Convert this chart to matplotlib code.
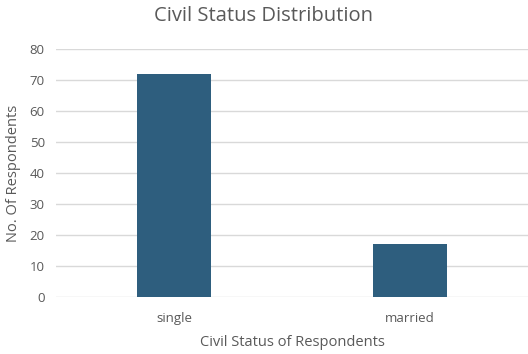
import matplotlib.pyplot as plt
import numpy as np

# Civil status counts
categories = ['single', 'married']
counts = [72, 17]
y_ticks = [0, 10, 20, 30, 40, 50, 60, 70, 80]

plt.rcParams['font.family'] = ['Open Sans', 'DejaVu Sans']
text_color = '#595959'

fig = plt.figure(figsize=(5.28, 3.54), dpi=100)
ax = fig.add_axes([0.106, 0.162, 0.894, 0.699])

x = np.arange(len(categories))
ax.bar(x, counts, width=0.31, color='#2E5E7E', zorder=3)

ax.set_xlim(-0.5, len(categories) - 0.5)
ax.set_ylim(0, 80)
ax.set_yticks(y_ticks)
ax.set_xticks(x)
ax.set_xticklabels(categories)
ax.grid(axis='y', color='#D9D9D9', linewidth=1, zorder=0)
ax.tick_params(axis='both', length=0, colors=text_color, labelsize=9.5, pad=8)
ax.tick_params(axis='x', pad=11)
for side in ['top', 'right', 'left', 'bottom']:
    ax.spines[side].set_visible(False)

ax.set_xlabel('Civil Status of Respondents', color=text_color, fontsize=10.5, labelpad=7.5)
ax.set_ylabel('No. Of Respondents', color=text_color, fontsize=10.5, labelpad=6)
fig.text(0.5, 0.955, 'Civil Status Distribution', ha='center', va='center',
         color=text_color, fontsize=14.5)

plt.savefig('out.png', dpi=100)
plt.close()
